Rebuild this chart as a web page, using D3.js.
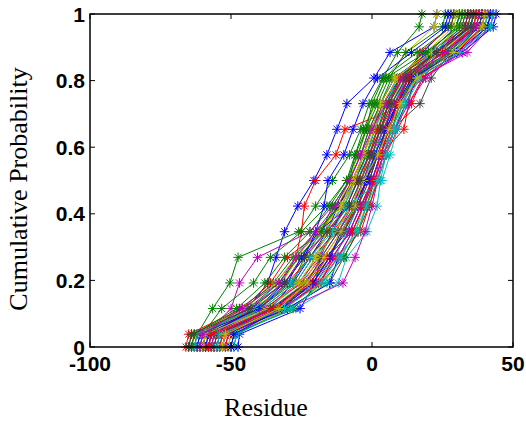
<!DOCTYPE html>
<html>
<head>
<meta charset="utf-8">
<title>Cumulative Probability vs Residue</title>
<script src="https://d3js.org/d3.v7.min.js"></script>
<style>
  body { margin: 0; background: #fff; }
  .tick-label { font-family: "Liberation Sans", Arial, sans-serif; font-weight: bold; font-size: 21px; fill: #000; }
  .axis-title { font-family: "Liberation Serif", "Times New Roman", serif; font-size: 26px; fill: #000; }
</style>
</head>
<body>
<script>
// cumulative probability levels shared by every series
var probs = [0, 0.0385, 0.1154, 0.1923, 0.2692, 0.3462, 0.4231, 0.5, 0.5769, 0.6538, 0.7308, 0.8077, 0.8846, 0.9615, 1];

// residue values per series (one per probability level)
var residues = [
  [-60, -59, -44, -37, -34, -31, -26.3, -20.6, -16, -12.4, -8.9, 0.7, 6.4, 22, 23],
  [-63, -62, -56.5, -50.4, -47.5, -26, -20, -14, -8, -4, -1, 3.8, 9, 16.7, 17.7],
  [-59, -58, -42, -32, -27, -25, -24, -20, -12.8, -9.6, 13, 15, 25, 37, 38],
  [-51, -50, -27, -12, -9, -1.8, 1.8, 3, 5, 8, 12, 16, 31, 41, 42],
  [-60, -59, -50, -47, -40.6, -22, -14, -8, -4, -1, 3, 8, 22, 33, 34],
  [-58, -57, -41, -29, -23, -17, -12, -8, -5, -2, 1, 5, 12, 22, 23],
  [-55, -54, -33, -20, -14, -8, -4, 0, 3, 7, 17, 21, 28, 38, 39],

  [-47.5, -47, -25.5, -20, -18.4, -14, -10, -6, -3, 0, 3, 8, 20, 30, 31],
  [-61, -60, -53.3, -42, -36, -25, -16, -9, -5, -2, 2, 6, 12, 25, 26],
  [-66, -65, -46, -36, -30, -18, -12, -7, -3, 0, 4, 9, 20, 34, 35],
  [-57, -56, -37, -25, -20, -13, -8, -4, 0, 3, 7, 11, 22, 32, 33],
  [-52, -51, -30, -10.3, -6, -2.5, 0, 2, 4, 7, 11, 14, 30, 40, 41],
  [-61, -60, -42, -32, -26, -17, -10, -6, -2, 1, 5, 10, 23, 34, 35],
  [-62, -61, -47, -34, -27, -19, -12, -7, -3, 0, 4, 9, 21, 32, 33],

  [-57, -56, -36, -28, -22, -16, -12, -6, -2, 1, 4, 10, 18, 27, 28],
  [-58, -57, -40, -28, -24, -18, -13, -8, -4, -1, 3, 7, 24, 35, 36],
  [-60, -59, -38, -26, -19, -14, -7, -4, -1, 3, 8, 13, 30, 39, 40],
  [-62, -61, -43, -33, -26, -17, -10, -5, -2, 1, 5, 9, 25, 36, 37],
  [-56, -55, -35, -23, -16, -10, -5, -2, 2, 6, 10, 17, 33.7, 42, 43],
  [-55, -54, -34, -22, -16, -10, -6, -2, 1, 4, 8, 12, 26, 37, 38],
  [-49, -48, -30, -15, -10, -5, -1, 2, 5, 8, 12, 16, 27, 36, 37],

  [-55, -54, -35, -24, -16, -9, -5, -2, 1, 4, 9, 15, 32, 43, 44],
  [-54, -53, -33, -22, -15, -10, -6, -3, 0, 3, 6, 11, 28, 40, 41],
  [-56, -55, -32, -18, -14, -8, -4, 0, 3, 11.3, 13, 18, 26, 36, 37],
  [-54, -53, -31, -20, -13, -9, -5, -1, 2, 5, 9, 14, 28, 38, 39],
  [-63, -62, -44, -31, -25, -16, -9, -5, -1, 2, 6, 10, 24, 35, 36],
  [-51, -50, -29, -17, -11, -6, -2, 1, 4, 7, 10, 14, 30, 40, 41],
  [-58, -57, -39, -27, -21, -13, -7, -3, 1, 4, 8, 12, 24, 34, 35],

  [-62, -61, -40, -30, -25, -19, -8, -1, 2, 5, 7, 12, 22, 35, 36],
  [-65, -64, -45, -35, -28, -20, -11, -6, -2, 2, 5, 10, 20, 30, 31],
  [-52, -51, -34, -24, -17, -11, -5, -2, 2, 5, 9, 12, 17, 28, 29],
  [-59, -58, -39, -27, -21, -12, -6, -3, 1, 4, 8, 12, 21, 31, 32],
  [-58, -57, -38, -25, -18, -12, -7, -3, 0, 4, 8, 13, 27, 38, 39],
  [-64, -63, -45, -34, -27, -19, -11, -6, -3, 1, 4, 9, 19, 29, 30],
  [-53, -52, -33, -21, -15, -10, -5, -1, 2, 5, 9, 13, 29, 39, 40],

  [-53, -52, -30, -15, -12, -7, -3, 0, 3, 6, 9, 13, 25, 38, 39],
  [-50, -49, -28, -18, -10, -5, -2, 1, 4, 7, 10, 14, 27, 37, 38],
  [-64, -63, -41, -30, -22, -15, -9, -5, -1, 2, 6, 10, 23, 33, 34],
  [-49, -48, -29, -16, -11, -6, -3, 1, 4, 7, 11, 15, 29, 40, 41],
  [-53, -52, -32, -19, -12, -7, -3, 0, 3, 6, 9, 18, 32, 42, 43],
  [-57, -56, -36, -24, -19, -13, -7, -4, 0, 3, 7, 11, 24, 36, 37],
  [-60, -59, -40, -29, -22, -15, -9, -5, -1, 3, 6, 11, 23, 33, 34],

  [-59, -58, -41, -31, -24, -20, -17, -15.6, -10, -6.7, -3.2, 2, 14, 26, 27],
  [-61, -60, -44, -33, -26, -18, -14, -8, -6, -2, 0, 4, 16, 28, 29],
  [-54, -53, -31, -19, -13, -4, -1, 2, 5, 9, 14, 18, 30, 39, 40],
  [-63, -62, -42, -29, -22, -14, -9, 3.5, 6.4, 9, 12, 17, 26, 35, 36],
  [-57, -56, -34, -21, -14, -8, -4, 1, 4, 8, 13, 19, 31, 41, 42],
  [-60, -59, -37, -26, -20, -16, -11, -7, -3, 0, 3, 8, 21, 31, 32],
  [-56, -55, -36, -23, -18, -12, -6, -2, 2, 6, 10, 15, 29, 38, 39],

  [-50, -49, -32, -21, -15, -11, -6, -2, 1, 5, 9, 14, 30, 41, 42],
  [-64, -63, -48, -38, -31, -22, -15, -9, -6, -3, 1, 5, 19, 31, 32],
  [-58, -57, -35, -22, -16, -7, -3, 1, 3, 6, 9, 13, 25, 36, 37],
  [-55, -54, -31, -18, -12, -5, -2, 2, 5, 8, 11, 16, 31, 42, 43],
  [-61, -60, -46, -33, -27, -20, -13, -8, -4, 0, 5, 11, 26, 37, 38],
  [-53, -52, -33, -23, -17, -11, -6, -3, 2, 6, 10, 16, 29, 39, 40],
  [-65, -64, -43, -31, -24, -16, -8, -4, 0, 3, 7, 12, 23, 35, 36]
];

var colors = ["#0000ff", "#008000", "#ff0000", "#00bfbf", "#bf00bf", "#bfbf00", "#404040"];
var xTicks = [-100, -50, 0, 50];
var yTicks = [0, 0.2, 0.4, 0.6, 0.8, 1];

var W = 526, H = 423;
var box = {left: 90, right: 513, top: 14, bottom: 347};

var svg = d3.select("body").append("svg")
    .attr("width", W)
    .attr("height", H);

var x = d3.scaleLinear().domain([-100, 50]).range([box.left, box.right]);
var y = d3.scaleLinear().domain([0, 1]).range([box.bottom, box.top]);

var line = d3.line()
    .x(function(d) { return x(d[0]); })
    .y(function(d) { return y(d[1]); });

// asterisk marker like matlab '*'
var r = 4.8, q = r * 0.72;
var star = "M" + (-r) + ",0H" + r + "M0," + (-r) + "V" + r +
           "M" + (-q) + "," + (-q) + "L" + q + "," + q +
           "M" + (-q) + "," + q + "L" + q + "," + (-q);

residues.forEach(function(vals, i) {
  var pts = vals.map(function(v, j) { return [v, probs[j]]; });
  var c = colors[i % colors.length];
  var g = svg.append("g");
  g.append("path")
    .attr("d", line(pts))
    .attr("fill", "none")
    .attr("stroke", c)
    .attr("stroke-width", 1);
  g.selectAll("path.mk")
    .data(pts)
    .enter().append("path")
    .attr("class", "mk")
    .attr("d", star)
    .attr("transform", function(d) { return "translate(" + x(d[0]) + "," + y(d[1]) + ")"; })
    .attr("stroke", c)
    .attr("stroke-width", 1);
});

// box
svg.append("rect")
    .attr("x", box.left).attr("y", box.top)
    .attr("width", box.right - box.left).attr("height", box.bottom - box.top)
    .attr("fill", "none")
    .attr("stroke", "#000")
    .attr("stroke-width", 1.5);

var tl = 5;
xTicks.forEach(function(t) {
  svg.append("line").attr("x1", x(t)).attr("x2", x(t)).attr("y1", box.bottom).attr("y2", box.bottom - tl)
    .attr("stroke", "#000").attr("stroke-width", 1);
  svg.append("line").attr("x1", x(t)).attr("x2", x(t)).attr("y1", box.top).attr("y2", box.top + tl)
    .attr("stroke", "#000").attr("stroke-width", 1);
  svg.append("text").attr("class", "tick-label")
    .attr("x", x(t)).attr("y", 371)
    .attr("text-anchor", "middle")
    .text(t);
});

yTicks.forEach(function(t) {
  svg.append("line").attr("x1", box.left).attr("x2", box.left + tl).attr("y1", y(t)).attr("y2", y(t))
    .attr("stroke", "#000").attr("stroke-width", 1);
  svg.append("line").attr("x1", box.right).attr("x2", box.right - tl).attr("y1", y(t)).attr("y2", y(t))
    .attr("stroke", "#000").attr("stroke-width", 1);
  svg.append("text").attr("class", "tick-label")
    .attr("x", box.left - 5).attr("y", y(t) + 7.5)
    .attr("text-anchor", "end")
    .text(t);
});

svg.append("text").attr("class", "axis-title")
    .attr("x", 266).attr("y", 416)
    .attr("text-anchor", "middle")
    .text("Residue");

svg.append("text").attr("class", "axis-title")
    .attr("transform", "translate(27,189) rotate(-90)")
    .attr("text-anchor", "middle")
    .text("Cumulative Probability");
</script>
</body>
</html>
